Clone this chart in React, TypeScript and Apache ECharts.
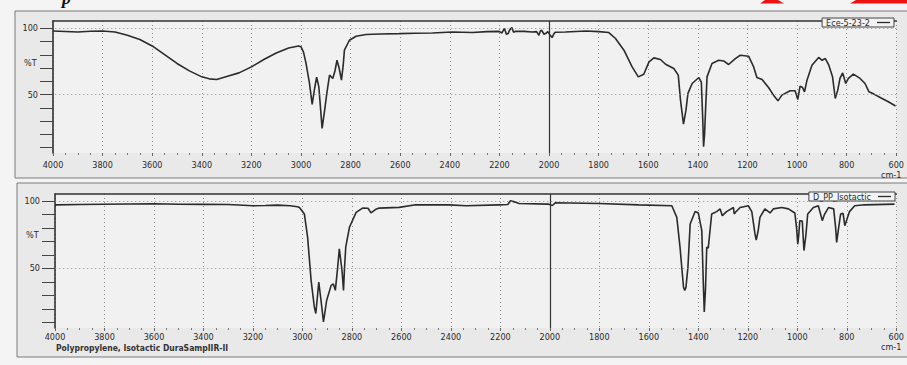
import React, { useEffect, useRef } from "react";
import * as echarts from "echarts";

// ---- Data ----
const topName = "Ece-5-23-2";
const bottomName = "D_PP_Isotactic";

const topWavenumbers = [
  4000, 3950, 3900, 3850, 3800, 3750, 3700, 3650, 3600, 3550, 3500, 3450, 3400, 3370, 3340, 3300, 3250, 3200,
  3150, 3100, 3050, 3010, 3000, 2990, 2980, 2966, 2955, 2945, 2937, 2928, 2915, 2905, 2896, 2885, 2872, 2863,
  2855, 2846, 2837, 2830, 2825, 2805, 2778, 2738, 2680, 2604, 2540, 2470, 2390, 2309, 2250, 2201, 2190, 2180,
  2172, 2165, 2158, 2150, 2143, 2135, 2100, 2068, 2050, 2041, 2035, 2030, 2020, 2014, 2005, 1995, 1988, 1980,
  1975, 1934, 1850, 1799, 1759, 1732, 1698, 1665, 1640, 1618, 1597, 1577, 1551, 1530, 1497, 1479, 1470, 1458,
  1448, 1440, 1423, 1396, 1386, 1380, 1377, 1373, 1369, 1363, 1343, 1316, 1296, 1276, 1249, 1229, 1195, 1175,
  1162, 1141, 1115, 1095, 1077, 1061, 1028, 1008, 997, 988, 978, 970, 960, 940, 913, 899, 886, 872, 857, 846,
  836, 827, 816, 804, 793, 773, 746, 726, 710, 690, 663, 632, 603,
];
const topTransmittance = [
  98, 97.6, 97.2, 97.8, 98, 97.2, 94.7, 91.5, 86.7, 80.2, 73.5, 67.9, 63.4, 61.9, 61.4, 63.7, 66.4, 70.9,
  76.5, 81.4, 85.2, 86.7, 86, 82, 73.7, 58.6, 42.6, 55, 63.2, 55.6, 24.6, 38, 50.9, 64.7, 62.2, 68,
  75.9, 69.7, 60.9, 72, 83.5, 91, 94, 95.3, 95.7, 96, 96.3, 96.5, 97.2, 96.8, 97.5, 97.7, 96.5, 100,
  95.5, 96, 99, 100.5, 97, 97.7, 97.7, 97.2, 97.5, 94.7, 98, 98.5, 95.5, 96, 97.5, 94.7, 93, 96,
  97, 97.2, 98, 97.5, 96.8, 92.3, 83.5, 70.9, 63.4, 65.4, 74.7, 77.7, 76.5, 72.9, 69.7, 64.7, 45.9, 27.8,
  38.3, 50.9, 58.4, 62.9, 59.5, 30, 10.8, 20, 38.3, 63.4, 73.5, 75.9, 75.4, 72.7, 77.2, 79.7, 78.9, 70.9,
  62.9, 61.4, 55.4, 49.6, 45.3, 49.6, 52.9, 52.9, 46.4, 56.4, 55.4, 52.1, 60.9, 72.2, 78, 75.9, 77.2, 72.2, 63.4, 47.1,
  53.4, 62.2, 66.4, 58.4, 62.2, 65.4, 62.2, 58.4, 52.1, 50.4, 47.6, 44.6, 41.4,
];

const bottomWavenumbers = [
  4000, 3900, 3800, 3700, 3600, 3500, 3400, 3300, 3200, 3150, 3100, 3050, 3020, 3012, 2992, 2979, 2965, 2952,
  2946, 2940, 2934, 2925, 2915, 2902, 2884, 2875, 2867, 2858, 2851, 2840, 2834, 2830, 2825, 2810, 2783, 2757,
  2735, 2723, 2705, 2690, 2609, 2542, 2407, 2339, 2206, 2170, 2159, 2140, 2125, 2004, 1990, 1978, 1802, 1641,
  1507, 1487, 1474, 1460, 1455, 1450, 1442, 1433, 1413, 1400, 1386, 1380, 1376, 1371, 1366, 1360, 1346, 1326,
  1312, 1303, 1286, 1258, 1255, 1250, 1231, 1198, 1184, 1171, 1166, 1158, 1151, 1131, 1110, 1097, 1063, 1036,
  1010, 1003, 998, 994, 990, 980, 973, 965, 958, 935, 915, 899, 890, 874, 853, 845, 841, 833, 825, 815, 808,
  800, 789, 768, 728, 607,
];
const bottomTransmittance = [
  97, 97.2, 97.4, 97.6, 97.8, 97.4, 97.3, 97.2, 96.3, 96.5, 96.8, 96.3, 95.6, 95.1, 90.2, 73, 41.2, 21.6,
  16.7, 28, 40, 26.5, 10.5, 26.5, 37.5, 38.5, 33.8, 50, 64.5, 48.5, 33.8, 50, 65.7, 80.4, 91.4, 94.6,
  94.5, 91, 93.5, 94.6, 95.1, 97, 97, 96.3, 97, 97.2, 100, 99, 98, 97.5, 96.5, 98.5, 98, 97,
  96.3, 87.7, 65.7, 36.3, 33.8, 36, 51, 82.8, 92.1, 91, 78, 40, 17.9, 35, 65.7, 65, 90.2, 92,
  94, 89, 92, 95, 90.2, 91.5, 95, 96.3, 92, 75.5, 71, 78, 87.7, 94, 91, 94, 95, 94,
  91, 80, 68, 75, 85.3, 85, 63.2, 75, 90.2, 95, 96.3, 85.3, 90, 95, 94, 80, 69.3, 80, 90.2, 90.7, 81.6,
  86, 92, 96.3, 97, 97.5,
];

const yTickValues = [10, 20, 30, 40, 50, 60, 70, 80, 90, 100];
const yLabelValues = [50, 100];
const gridLevels = [50, 100];
const markerWavenumber = 2000;
const xMin = 600;
const xMax = 4000;
const xStep = 200;

const FONT = "'DejaVu Sans Condensed','Liberation Sans',Arial,sans-serif";

function pairs(xs: number[], ys: number[]) {
  return xs.map((x, i) => [x, ys[i]]);
}

function buildOption() {
  const grids = [
    { left: 53, right: 9, top: 21, height: 132 },
    { left: 55, right: 9, top: 194, height: 134 },
  ];
  const xAxes: any[] = [];
  const yAxes: any[] = [];
  grids.forEach((_, i) => {
    xAxes.push({
      type: "value",
      gridIndex: i,
      min: xMin,
      max: xMax,
      interval: xStep,
      inverse: true,
      axisLine: { show: false },
      axisTick: { show: true, length: 3, lineStyle: { color: "#666" } },
      minorTick: { show: true, splitNumber: 4, length: 2, lineStyle: { color: "#777" } },
      axisLabel: {
        color: "#2a2a2a",
        fontSize: 9,
        fontFamily: FONT,
        margin: i === 0 ? 7 : 4,
        formatter: (v: number) => String(v),
      },
      splitLine: { show: true, lineStyle: { type: [1, 3], color: "#8a8a8a", width: 1 } },
    });
    xAxes.push({
      type: "value",
      gridIndex: i,
      position: "top",
      min: xMin,
      max: xMax,
      inverse: true,
      axisLine: { show: true, lineStyle: { color: "#333", width: 1.6 } },
      axisTick: { show: false },
      axisLabel: { show: false },
      splitLine: { show: false },
    });
    yAxes.push({
      type: "value",
      gridIndex: i,
      min: 6,
      max: i === 0 ? 105.5 : 105,
      axisLine: { show: true, lineStyle: { color: "#333", width: 1.6 } },
      axisTick: { show: true, length: 13, customValues: yTickValues, lineStyle: { color: "#444" } },
      axisLabel: { customValues: yLabelValues, color: "#2a2a2a", fontSize: 9, fontFamily: FONT, margin: 15 },
      splitLine: { show: false },
    });
  });

  const markLine = {
    silent: true,
    symbol: "none",
    label: { show: false },
    data: [
      ...gridLevels.map((v) => ({ yAxis: v, lineStyle: { type: [1, 3], color: "#8a8a8a", width: 1 } })),
      { xAxis: markerWavenumber, lineStyle: { type: "solid", color: "#333", width: 1.2 } },
    ],
  };

  const series = [
    {
      name: topName,
      type: "line",
      xAxisIndex: 0,
      yAxisIndex: 0,
      data: pairs(topWavenumbers, topTransmittance),
      symbol: "none",
      lineStyle: { color: "#2b2b2b", width: 1.6 },
      itemStyle: { color: "#2b2b2b" },
      markLine,
      z: 3,
    },
    {
      name: bottomName,
      type: "line",
      xAxisIndex: 2,
      yAxisIndex: 1,
      data: pairs(bottomWavenumbers, bottomTransmittance),
      symbol: "none",
      lineStyle: { color: "#2b2b2b", width: 1.6 },
      itemStyle: { color: "#2b2b2b" },
      markLine,
      z: 3,
    },
  ];

  const legendCommon = {
    orient: "horizontal",
    align: "right",
    icon: "rect",
    itemWidth: 13,
    itemHeight: 1.3,
    padding: [0, 4, 0, 4],
    borderColor: "#444",
    borderWidth: 1,
    borderRadius: 0,
    backgroundColor: "#f3f3f3",
    textStyle: { fontSize: 9, color: "#2a2a2a", fontFamily: FONT, lineHeight: 9, padding: [0, 2, 0, 0] },
    selectedMode: false,
  };

  const textStyle = (text: string, x: number, y: number, size: number, extra: any = {}) => ({
    type: "text",
    x,
    y,
    silent: true,
    style: { text, fontSize: size, fontFamily: FONT, fill: "#2a2a2a", ...extra },
  });

  return {
    animation: false,
    backgroundColor: "#f4f4f4",
    grid: grids.map((g) => ({ ...g, show: true, backgroundColor: "#f1f1f1", borderWidth: 0 })),
    xAxis: xAxes,
    yAxis: yAxes,
    legend: [
      { ...legendCommon, data: [topName], right: 13, top: 18 },
      { ...legendCommon, data: [bottomName], right: 12, top: 192 },
    ],
    graphic: [
      {
        type: "rect",
        z: -10,
        silent: true,
        shape: { x: 15, y: 11, width: 900, height: 167 },
        style: { fill: "#e9e9e9", stroke: "#7a7a7a", lineWidth: 1 },
      },
      {
        type: "rect",
        z: -10,
        silent: true,
        shape: { x: 17, y: 183, width: 900, height: 174 },
        style: { fill: "#e9e9e9", stroke: "#7a7a7a", lineWidth: 1 },
      },
      textStyle("%T", 24, 58, 9),
      textStyle("%T", 26, 230, 9),
      textStyle("cm-1", 881, 170, 9),
      textStyle("cm-1", 881, 342, 9),
      textStyle("Polypropylene, Isotactic DuraSampIIR-II", 56, 343, 8.5, { fontWeight: "bold", fill: "#333" }),
      {
        type: "polygon",
        silent: true,
        shape: { points: [[760, 3.5], [765, 0], [778, 0], [784, 3.5]] },
        style: { fill: "#ee1111" },
      },
      {
        type: "polygon",
        silent: true,
        shape: { points: [[850, 3.5], [856, 0], [907, 0], [907, 3.5]] },
        style: { fill: "#ee1111" },
      },
      {
        type: "text",
        x: 62,
        y: 7,
        silent: true,
        style: {
          text: "p",
          fontSize: 18,
          fontFamily: "'Liberation Serif', serif",
          fontStyle: "italic",
          fontWeight: "bold",
          fill: "#111",
          verticalAlign: "bottom",
        },
      },
    ],
    series,
  };
}

export default function App() {
  const ref = useRef<HTMLDivElement>(null);
  useEffect(() => {
    if (!ref.current) return;
    const chart = echarts.init(ref.current, null, { renderer: "svg" });
    chart.setOption(buildOption() as any);
    return () => chart.dispose();
  }, []);
  return (
    <div
      ref={ref}
      style={{ position: "fixed", left: 0, top: 0, width: 907, height: 365, background: "#f4f4f4" }}
    />
  );
}
